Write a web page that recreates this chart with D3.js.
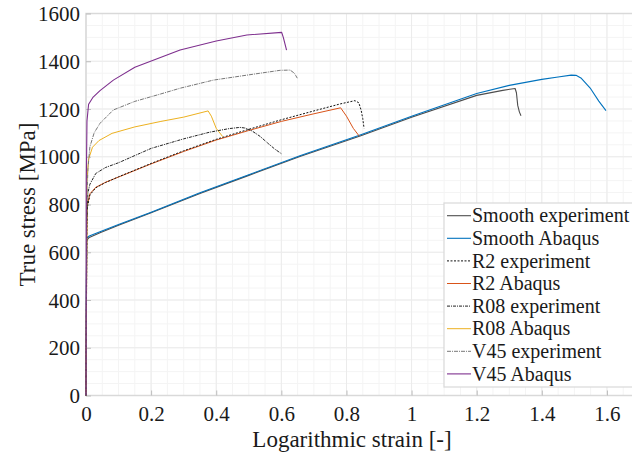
<!DOCTYPE html>
<html>
<head>
<meta charset="utf-8">
<script src="https://cdn.jsdelivr.net/npm/d3@7"></script>
<style>
  html, body { margin: 0; padding: 0; background: #fff; }
  svg { display: block; }
  svg text { font-family: "Liberation Serif", "Times New Roman", "DejaVu Serif", serif !important; fill: #1a1a1a; }
</style>
</head>
<body>
<svg id="chart" width="632" height="458"></svg>
<script>
// Axis ticks
const xTicks = [0, 0.2, 0.4, 0.6, 0.8, 1, 1.2, 1.4, 1.6];
const yTicks = [0, 200, 400, 600, 800, 1000, 1200, 1400, 1600];

// Series names in legend order
const seriesNames = [
  "Smooth experiment", "Smooth Abaqus",
  "R2 experiment", "R2 Abaqus",
  "R08 experiment", "R08 Abaqus",
  "V45 experiment", "V45 Abaqus"
];

// [logarithmic strain, true stress MPa]
const smoothExperiment = [
  [0, 0], [0.002, 650], [0.01, 662], [0.043, 682], [0.1, 713], [0.2, 765],
  [0.35, 846], [0.5, 922], [0.657, 1001], [0.842, 1087], [1.0, 1165],
  [1.2, 1257], [1.28, 1278], [1.318, 1286], [1.322, 1268], [1.326, 1215],
  [1.331, 1188], [1.336, 1172]
];
const smoothAbaqus = [
  [0, 0], [0.002, 658], [0.01, 668], [0.043, 686], [0.1, 716], [0.2, 768],
  [0.35, 849], [0.5, 925], [0.657, 1004], [0.842, 1091], [1.0, 1170],
  [1.2, 1265], [1.3, 1299], [1.4, 1324], [1.45, 1334], [1.49, 1342],
  [1.505, 1341], [1.52, 1330], [1.55, 1285], [1.575, 1233], [1.597, 1193]
];
const r2Experiment = [
  [0, 0], [0.003, 780], [0.012, 840], [0.03, 870], [0.06, 892], [0.1, 916],
  [0.2, 972], [0.3, 1025], [0.4, 1073], [0.5, 1115], [0.6, 1155],
  [0.7, 1192], [0.78, 1221], [0.826, 1235], [0.838, 1226], [0.845, 1195],
  [0.85, 1160], [0.854, 1119]
];
const r2Abaqus = [
  [0, 0], [0.003, 790], [0.012, 845], [0.03, 872], [0.06, 893], [0.1, 915],
  [0.2, 970], [0.3, 1022], [0.4, 1070], [0.5, 1110], [0.6, 1148],
  [0.7, 1180], [0.782, 1205], [0.8, 1170], [0.821, 1119], [0.839, 1087]
];
const r08Experiment = [
  [0, 0], [0.002, 700], [0.006, 850], [0.012, 885], [0.03, 930], [0.06, 955],
  [0.1, 975], [0.2, 1035], [0.3, 1075], [0.38, 1103], [0.44, 1118],
  [0.473, 1123], [0.49, 1120], [0.51, 1108], [0.535, 1085], [0.56, 1055],
  [0.58, 1032], [0.601, 1012]
];
const r08Abaqus = [
  [0, 0], [0.003, 900], [0.008, 990], [0.02, 1040], [0.04, 1068],
  [0.08, 1098], [0.15, 1125], [0.23, 1148], [0.3, 1166], [0.375, 1192],
  [0.385, 1170], [0.4, 1119], [0.42, 1084]
];
const v45Experiment = [
  [0, 0], [0.002, 800], [0.006, 950], [0.012, 1042], [0.025, 1100],
  [0.043, 1140], [0.084, 1196], [0.15, 1232], [0.227, 1262], [0.289, 1287],
  [0.391, 1321], [0.5, 1343], [0.596, 1362], [0.627, 1363], [0.64, 1350],
  [0.649, 1329]
];
const v45Abaqus = [
  [0, 0], [0.001, 900], [0.003, 1150], [0.008, 1220], [0.022, 1250],
  [0.043, 1277], [0.084, 1321], [0.15, 1375], [0.289, 1447], [0.4, 1485],
  [0.494, 1510], [0.601, 1521], [0.606, 1500], [0.616, 1447]
];

const seriesData = [
  smoothExperiment, smoothAbaqus, r2Experiment, r2Abaqus,
  r08Experiment, r08Abaqus, v45Experiment, v45Abaqus
];

// Line styles per series
const styles = [
  { color: "#4d4d4d", width: 1.1, dash: null },
  { color: "#0072BD", width: 1.1, dash: null },
  { color: "#111111", width: 1, dash: "2,1.5" },
  { color: "#D95319", width: 1, dash: null },
  { color: "#222222", width: 1, dash: "3,1,1,1" },
  { color: "#EDB120", width: 1, dash: null },
  { color: "#777777", width: 1, dash: "4,1,1,1" },
  { color: "#7E2F8E", width: 1.1, dash: null }
];

const svg = d3.select("#chart");
const plotLeft = 86, plotTop = 13.5, plotBottom = 395.5, plotRight = 639.5;

const x = d3.scaleLinear().domain([0, 1.7]).range([plotLeft, plotRight]);
const y = d3.scaleLinear().domain([0, 1600]).range([plotBottom, plotTop]);

// Minor grid
const gGrid = svg.append("g");
gGrid.selectAll("line.mx").data(d3.range(0, 1.7001, 0.05))
  .join("line")
  .attr("x1", d => x(d)).attr("x2", d => x(d))
  .attr("y1", plotTop).attr("y2", plotBottom)
  .attr("stroke", "#f4f4f4").attr("stroke-width", 1);
gGrid.selectAll("line.my").data(d3.range(0, 1601, 50))
  .join("line")
  .attr("x1", plotLeft).attr("x2", plotRight)
  .attr("y1", d => y(d)).attr("y2", d => y(d))
  .attr("stroke", "#f4f4f4").attr("stroke-width", 1);
// Major grid
gGrid.selectAll("line.gx").data(xTicks)
  .join("line")
  .attr("x1", d => x(d)).attr("x2", d => x(d))
  .attr("y1", plotTop).attr("y2", plotBottom)
  .attr("stroke", "#ebebeb").attr("stroke-width", 1);
gGrid.selectAll("line.gy").data(yTicks)
  .join("line")
  .attr("x1", plotLeft).attr("x2", plotRight)
  .attr("y1", d => y(d)).attr("y2", d => y(d))
  .attr("stroke", "#ebebeb").attr("stroke-width", 1);

// Axes box
const boxColor = "#d9d9d9";
svg.append("rect")
  .attr("x", plotLeft).attr("y", plotTop)
  .attr("width", plotRight - plotLeft).attr("height", plotBottom - plotTop)
  .attr("fill", "none").attr("stroke", boxColor).attr("stroke-width", 1.5);

// Axes with inward ticks
const xAxis = d3.axisBottom(x).tickValues(xTicks).tickSize(-5).tickPadding(0)
  .tickFormat(d3.format("~g"));
const gx = svg.append("g").attr("transform", `translate(0,${plotBottom})`).call(xAxis);
gx.attr("font-family", null).attr("font-size", null);
gx.select(".domain").remove();
gx.selectAll(".tick line").attr("stroke", "#bdbdbd");
gx.selectAll(".tick text")
  .attr("y", 25).attr("dy", 0)
  .style("font-size", "21px").attr("fill", "#1a1a1a");

const yAxis = d3.axisLeft(y).tickValues(yTicks).tickSize(-5).tickPadding(0)
  .tickFormat(d3.format("d"));
const gy = svg.append("g").attr("transform", `translate(${plotLeft},0)`).call(yAxis);
gy.attr("font-family", null).attr("font-size", null);
gy.select(".domain").remove();
gy.selectAll(".tick line").attr("stroke", "#bdbdbd");
gy.selectAll(".tick text")
  .attr("x", -6).attr("dy", "0.34em")
  .style("font-size", "21px").attr("fill", "#1a1a1a");

// Axis titles
svg.append("text")
  .attr("x", 352).attr("y", 447)
  .attr("text-anchor", "middle")
  .style("font-size", "23px")
  .text("Logarithmic strain [-]");
svg.append("text")
  .attr("transform", `translate(35,${(plotTop + plotBottom) / 2}) rotate(-90)`)
  .attr("text-anchor", "middle")
  .style("font-size", "23px")
  .text("True stress [MPa]");

// Curves (smooth experiment underneath its simulation)
const line = d3.line().x(d => x(d[0])).y(d => y(d[1]));
const drawOrder = [0, 1, 3, 2, 5, 4, 6, 7];
const gLines = svg.append("g");
drawOrder.forEach(i => {
  const s = styles[i];
  gLines.append("path")
    .datum(seriesData[i])
    .attr("d", line)
    .attr("fill", "none")
    .attr("stroke", s.color)
    .attr("stroke-width", s.width)
    .attr("stroke-linejoin", "round")
    .attr("stroke-dasharray", s.dash);
});

// Legend
const lg = svg.append("g").attr("transform", "translate(444,203)");
lg.append("rect")
  .attr("x", 0).attr("y", 0).attr("width", 200).attr("height", 184)
  .attr("fill", "#fff").attr("stroke", boxColor).attr("stroke-width", 1.2);
seriesNames.forEach((name, i) => {
  const cy = 12.7 + i * 22.6;
  const s = styles[i];
  lg.append("line")
    .attr("x1", 3).attr("x2", 27).attr("y1", cy).attr("y2", cy)
    .attr("stroke", s.color).attr("stroke-width", s.width)
    .attr("stroke-dasharray", s.dash);
  lg.append("text")
    .attr("x", 28).attr("y", cy).attr("dy", "0.33em")
    .style("font-size", "20px")
    .text(name);
});
</script>
</body>
</html>
